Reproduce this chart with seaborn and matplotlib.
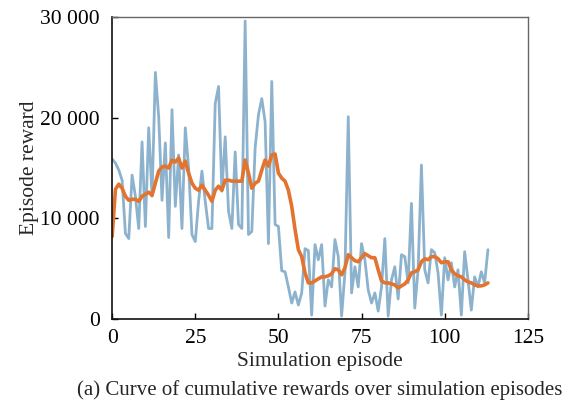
import numpy as np
import pandas as pd
import matplotlib
matplotlib.use("Agg")
import matplotlib.pyplot as plt
from matplotlib.ticker import FuncFormatter
import seaborn as sns

# Raw episode rewards, one value per simulation episode
episode_reward = [
    15900, 15500, 14800, 13800, 8500, 8000, 14300, 12200, 9000, 17600,
    9200, 19000, 12200, 24500, 20100, 11800, 17500, 8100, 20800, 11200,
    16300, 9000, 19000, 15000, 8400, 7700, 11700, 14700, 11700, 9000,
    9000, 21400, 23100, 12700, 18100, 10700, 9000, 16600, 9400, 9000,
    29600, 8400, 8700, 17000, 20300, 21900, 19600, 7500, 23600, 9400,
    9200, 4800, 4700, 3200, 1600, 2700, 1400, 2600, 7000, 6800,
    400, 7400, 5900, 7400, 1300, 3900, 3200, 7900, 6200, 300,
    4600, 20100, 2600, 5200, 3200, 7500, 5900, 2900, 1600, 2600,
    800, 3200, 8000, 300, 3900, 5200, 2000, 6400, 6200, 3600,
    11500, 1100, 4900, 15300, 4900, 3600, 6900, 6600, 4600, 400,
    6100, 3900, 5600, 3200, 4900, 400, 6700, 3900, 900, 4200,
    3200, 4700, 3600, 6900,
]

# Smoothed reward trend
smoothed_reward = [
    8200, 12900, 13400, 13000, 12200, 11800, 11900, 11900, 11700, 12200,
    12400, 12600, 12300, 13500, 14700, 15100, 15200, 15000, 15800, 15600,
    16000, 15000, 15700, 14500, 13500, 13000, 12800, 13300, 12800, 12300,
    11700, 12800, 13200, 12800, 13800, 13800, 13700, 13700, 13700, 13700,
    15800, 14500, 13000, 13500, 13700, 14800, 15800, 15200, 16300, 16400,
    14500, 14000, 13700, 12800, 11200, 8900, 6900, 6200, 4600, 3600,
    3600, 3800, 4000, 4200, 4200, 4300, 4500, 5000, 4900, 4400,
    5100, 6400, 6100, 5800, 5700, 6100, 6500, 6300, 6100, 6100,
    4900, 3800, 3600, 3600, 3500, 3400, 3100, 3300, 3500, 3900,
    4600, 4700, 4900, 5700, 6000, 5900, 6200, 6200, 6000, 5600,
    5700, 5700, 4900, 4500, 4300, 4200, 3900, 3700, 3600, 3400,
    3300, 3300, 3400, 3600,
]

episodes = list(range(len(episode_reward)))

x_ticks = [0, 25, 50, 75, 100, 125]
y_ticks = [0, 10000, 20000, 30000]

df = pd.DataFrame({
    "episode": episodes,
    "reward": episode_reward,
    "smoothed": smoothed_reward,
})

sns.set_theme(style="ticks")
plt.rcParams["font.family"] = ["Liberation Serif", "DejaVu Serif"]

fig = plt.figure(figsize=(5.75, 4.05), dpi=100)
ax = fig.add_axes([0.195, 0.212, 0.723, 0.746])

sns.lineplot(data=df, x="episode", y="reward", ax=ax, color="#86aecb",
             linewidth=2.0, alpha=0.95)
sns.lineplot(data=df, x="episode", y="smoothed", ax=ax, color="#e2742f",
             linewidth=2.6)

ax.set_xlim(0, 125)
ax.set_ylim(0, 30000)
ax.set_xticks(x_ticks)
ax.set_yticks(y_ticks)
ax.yaxis.set_major_formatter(FuncFormatter(lambda v, _: f"{int(v):,}".replace(",", " ")))

ax.tick_params(direction="in", length=4, width=1, labelsize=15.5, colors="black",
               top=False, right=False)
ax.tick_params(axis="y", pad=9)
ax.tick_params(axis="x", pad=7)
for side in ["left", "bottom"]:
    ax.spines[side].set_color("#111111")
    ax.spines[side].set_linewidth(1.2)
for side in ["top", "right"]:
    ax.spines[side].set_visible(True)
    ax.spines[side].set_color("#666666")
    ax.spines[side].set_linewidth(1.0)

ax.set_xlabel("Simulation episode", fontsize=15.5, labelpad=3)
ax.set_ylabel("Episode reward", fontsize=15.5, labelpad=1)

fig.text(0.556, 0.012, "(a) Curve of cumulative rewards over simulation episodes",
         ha="center", va="bottom", fontsize=15)

fig.savefig("out.png", dpi=100, facecolor="white")
